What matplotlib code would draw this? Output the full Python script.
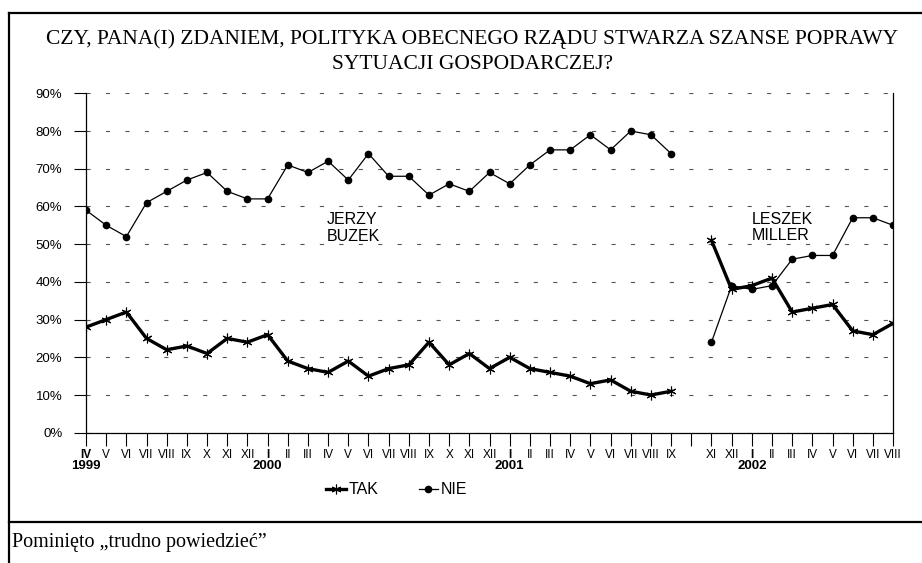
import numpy as np
import matplotlib.pyplot as plt
from matplotlib.lines import Line2D
from matplotlib.ticker import FuncFormatter
from matplotlib.transforms import blended_transform_factory

plt.rcParams['font.family'] = ['Liberation Sans', 'DejaVu Sans']
plt.rcParams['lines.scale_dashes'] = False

# miesiace IV 1999 - VIII 2002 (X 2001 bez badania)
etykiety = ["IV", "V", "VI", "VII", "VIII", "IX", "X", "XI", "XII",
            "I", "II", "III", "IV", "V", "VI", "VII", "VIII", "IX", "X", "XI", "XII",
            "I", "II", "III", "IV", "V", "VI", "VII", "VIII", "IX", "", "XI", "XII",
            "I", "II", "III", "IV", "V", "VI", "VII", "VIII"]
lata = ["1999", "2000", "2001", "2002"]
poczatki_lat = [0, 9, 21, 33]

tak = [28, 30, 32, 25, 22, 23, 21, 25, 24,
       26, 19, 17, 16, 19, 15, 17, 18, 24, 18, 21, 17,
       20, 17, 16, 15, 13, 14, 11, 10, 11, np.nan, 51, 38,
       39, 41, 32, 33, 34, 27, 26, 29]
nie = [59, 55, 52, 61, 64, 67, 69, 64, 62,
       62, 71, 69, 72, 67, 74, 68, 68, 63, 66, 64, 69,
       66, 71, 75, 75, 79, 75, 80, 79, 74, np.nan, 24, 39,
       38, 39, 46, 47, 47, 57, 57, 55]

tytul = "CZY, PANA(I) ZDANIEM, POLITYKA OBECNEGO RZĄDU STWARZA SZANSE POPRAWY\nSYTUACJI GOSPODARCZEJ?"
przypis = "Pominięto \u201etrudno powiedzieć\u201d"

x = np.arange(len(etykiety))

fig = plt.figure(figsize=(9.22, 5.63), dpi=100)
ax = fig.add_axes([0.0933, 0.2314, 0.8753, 0.6029])

l_tak, = ax.plot(x, tak, color="black", lw=2.4, marker=(6, 2, 0), ms=7, mew=0.8,
                 label="TAK", zorder=3)
l_nie, = ax.plot(x, nie, color="black", lw=0.9, marker="o", ms=4.5,
                 label="NIE", zorder=4)

ax.set_xlim(0, len(etykiety) - 1)
ax.set_ylim(0, 90)
ax.set_yticks(range(0, 91, 10))
ax.yaxis.set_major_formatter(FuncFormatter(lambda v, p: "%d%%" % v))
ax.set_xticks(x)
ax.set_xticklabels(etykiety, fontsize=8.5)
for i, lab in enumerate(ax.get_xticklabels()):
    if i in poczatki_lat:
        lab.set_fontweight("bold")
ax.tick_params(axis="y", direction="out", length=9, width=0.8, labelsize=9.5, pad=8)
ax.tick_params(axis="x", direction="out", length=9, width=0.8, pad=3)

trans = blended_transform_factory(ax.transData, ax.transAxes)
for rok, i in zip(lata, poczatki_lat):
    ax.text(i, -33.5 / 339.4, rok, transform=trans, fontsize=9.5, fontweight="bold",
            ha="center", va="center")

ax.grid(axis="y", color="#555555", lw=0.8, linestyle=(0, (3, 11)))
ax.set_axisbelow(True)
ax.spines["top"].set_visible(False)
for s in ["left", "right", "bottom"]:
    ax.spines[s].set_linewidth(0.9)

ax.text(0.2983, 0.603, "JERZY\nBUZEK", transform=ax.transAxes, fontsize=11.5,
        va="center", ha="left", linespacing=1.1)
ax.text(0.825, 0.6055, "LESZEK\nMILLER", transform=ax.transAxes, fontsize=11.5,
        va="center", ha="left", linespacing=1.1)

fig.text(0.5125, 1 - 51.5 / 563, tytul, family="Liberation Serif", fontsize=15.5,
         ha="center", va="center", linespacing=1.4)

fig.legend(handles=[l_tak, l_nie], loc="center", bbox_to_anchor=(0.4306, 1 - 490 / 563),
           ncol=2, frameon=False, fontsize=11.5, handlelength=1.2, handletextpad=0.2,
           columnspacing=2.5)

# ramka tabeli
lw_ramki = 1.6
fig.add_artist(Line2D([9 / 922, 1], [1 - 13 / 563, 1 - 13 / 563], color="black", lw=lw_ramki,
                      transform=fig.transFigure))
fig.add_artist(Line2D([9 / 922, 9 / 922], [0, 1 - 13 / 563], color="black", lw=lw_ramki,
                      transform=fig.transFigure))
fig.add_artist(Line2D([9 / 922, 1], [1 - 521.7 / 563, 1 - 521.7 / 563], color="black",
                      lw=lw_ramki, transform=fig.transFigure))

fig.text(12 / 922, 1 - 542 / 563, przypis, family="Liberation Serif", fontsize=14.5,
         ha="left", va="center")

fig.savefig("out.png", dpi=100)
